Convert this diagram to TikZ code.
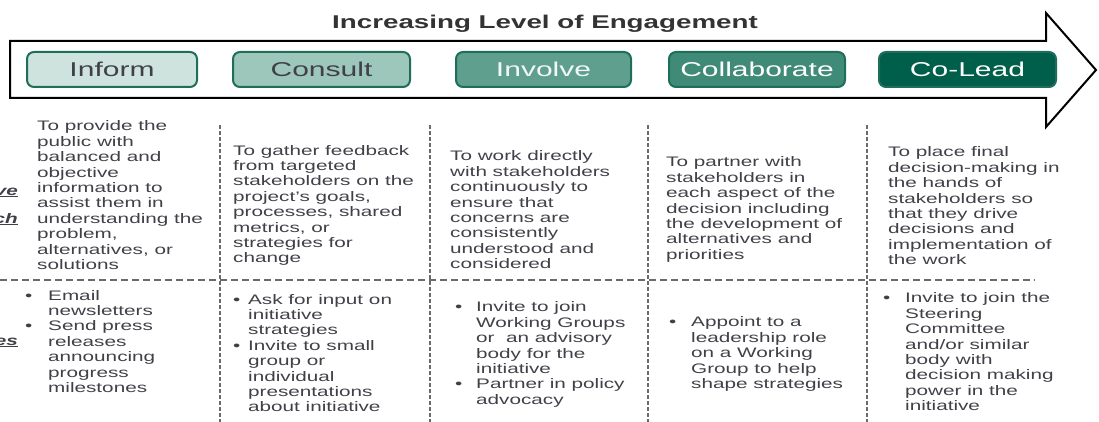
\documentclass[tikz,border=0pt]{standalone}
\usepackage{fontspec}
\setmainfont{Liberation Sans}[FakeStretch=1.5]
\usetikzlibrary{positioning}
\definecolor{stageline}{HTML}{1E6E5A}
\definecolor{informfill}{HTML}{CFE3DE}
\definecolor{consultfill}{HTML}{9EC7BC}
\definecolor{involvefill}{HTML}{5F9F8E}
\definecolor{collabfill}{HTML}{3F8B77}
\definecolor{coleadfill}{HTML}{005F4A}
\definecolor{bodytext}{HTML}{404048}
\definecolor{gridline}{HTML}{6A6A6A}
\newcommand{\bl}[1]{\makebox[#1][l]{\textbullet}}
\tikzset{
  stage/.style={draw=stageline, line width=2, rounded corners=7, minimum height=35, inner sep=0, font=\fontsize{20}{24}\selectfont},
  body/.style={anchor=north west, inner sep=0, text=bodytext, font=\fontsize{13.8}{15.4}\selectfont},
  sidelab/.style={anchor=base east, inner sep=0, text=bodytext, font=\fontsize{13.8}{15.4}\selectfont},
  colline/.style={gridline, line width=1.5, dash pattern=on 4 off 2},
  rowline/.style={gridline, line width=1.5, dash pattern=on 7 off 4}
}
\begin{document}
\begin{tikzpicture}[x=1pt,y=-1pt]
\useasboundingbox (0,0) rectangle (1099,422);

%Shape: Arrow
\draw [line width=2, line join=miter] (10,41) -- (1046,41) -- (1046,13) -- (1096,70) -- (1046,127) -- (1046,98) -- (10,98) -- cycle;

% Title
\node [anchor=base, inner sep=0, text=black!80, font=\bfseries\fontsize{18.5}{22}\selectfont] (title) at (545,29) {Increasing Level of Engagement};

% Stages
\node [stage, fill=informfill, text=bodytext, minimum width=170] (inform) at (112,69.5) {Inform};
\node [stage, fill=consultfill, text=bodytext, minimum width=177] (consult) at (321.5,69.5) {Consult};
\node [stage, fill=involvefill, text=white!92!involvefill, minimum width=175] (involve) at (543.5,69.5) {Involve};
\node [stage, fill=collabfill, text=white, minimum width=176] (collaborate) at (757,69.5) {Collaborate};
\node [stage, fill=coleadfill, text=white, minimum width=177] (colead) at (967.5,69.5) {Co-Lead};

%Straight Lines: grid
\draw [rowline] (0,280) -- (1035,280);
\foreach \x in {220,430,648,867}
  \draw [colline] (\x,125) -- (\x,422);

% Row labels
\node [sidelab] (goallab) at (18,195) {\underline{\textbf{\textit{ve}}}};
\node [sidelab] (approachlab) at (18,223) {\underline{\textbf{\textit{ch}}}};
\node [sidelab] (activitylab) at (18,345) {\underline{\textbf{\textit{es}}}};

% Text Node: goals
\node [body] (informgoal) at (37,120) {\begin{tabular}{@{}l@{}}
To provide the\\ public with\\ balanced and\\ objective\\ information to\\ assist them in\\ understanding the\\ problem,\\ alternatives, or\\ solutions
\end{tabular}};
\node [body] (consultgoal) at (233,144.2) {\begin{tabular}{@{}l@{}}
To gather feedback\\ from targeted\\ stakeholders on the\\ project's goals,\\ processes, shared\\ metrics, or\\ strategies for\\ change
\end{tabular}};
\node [body] (involvegoal) at (450,150) {\begin{tabular}{@{}l@{}}
To work directly\\ with stakeholders\\ continuously to\\ ensure that\\ concerns are\\ consistently\\ understood and\\ considered
\end{tabular}};
\node [body] (collabgoal) at (666,156) {\begin{tabular}{@{}l@{}}
To partner with\\ stakeholders in\\ each aspect of the\\ decision including\\ the development of\\ alternatives and\\ priorities
\end{tabular}};
\node [body] (coleadgoal) at (888,146) {\begin{tabular}{@{}l@{}}
To place final\\ decision-making in\\ the hands of\\ stakeholders so\\ that they drive\\ decisions and\\ implementation of\\ the work
\end{tabular}};

% Text Node: activities
\node [body] (informact) at (25,289.2) {\begin{tabular}{@{}l@{}l@{}}
\bl{23pt} & Email\\ & newsletters\\ \bl{23pt} & Send press\\ & releases\\ & announcing\\ & progress\\ & milestones
\end{tabular}};
\node [body] (consultact) at (233,293.2) {\begin{tabular}{@{}l@{}l@{}}
\bl{15pt} & Ask for input on\\ & initiative\\ & strategies\\ \bl{15pt} & Invite to small\\ & group or\\ & individual\\ & presentations\\ & about initiative
\end{tabular}};
\node [body] (involveact) at (455,301) {\begin{tabular}{@{}l@{}l@{}}
\bl{21pt} & Invite to join\\ & Working Groups\\ & or~~an advisory\\ & body for the\\ & initiative\\ \bl{21pt} & Partner in policy\\ & advocacy
\end{tabular}};
\node [body] (collabact) at (669,316) {\begin{tabular}{@{}l@{}l@{}}
\bl{22pt} & Appoint to a\\ & leadership role\\ & on a Working\\ & Group to help\\ & shape strategies
\end{tabular}};
\node [body] (coleadact) at (883,292) {\begin{tabular}{@{}l@{}l@{}}
\bl{22pt} & Invite to join the\\ & Steering\\ & Committee\\ & and/or similar\\ & body with\\ & decision making\\ & power in the\\ & initiative
\end{tabular}};

\end{tikzpicture}
\end{document}
